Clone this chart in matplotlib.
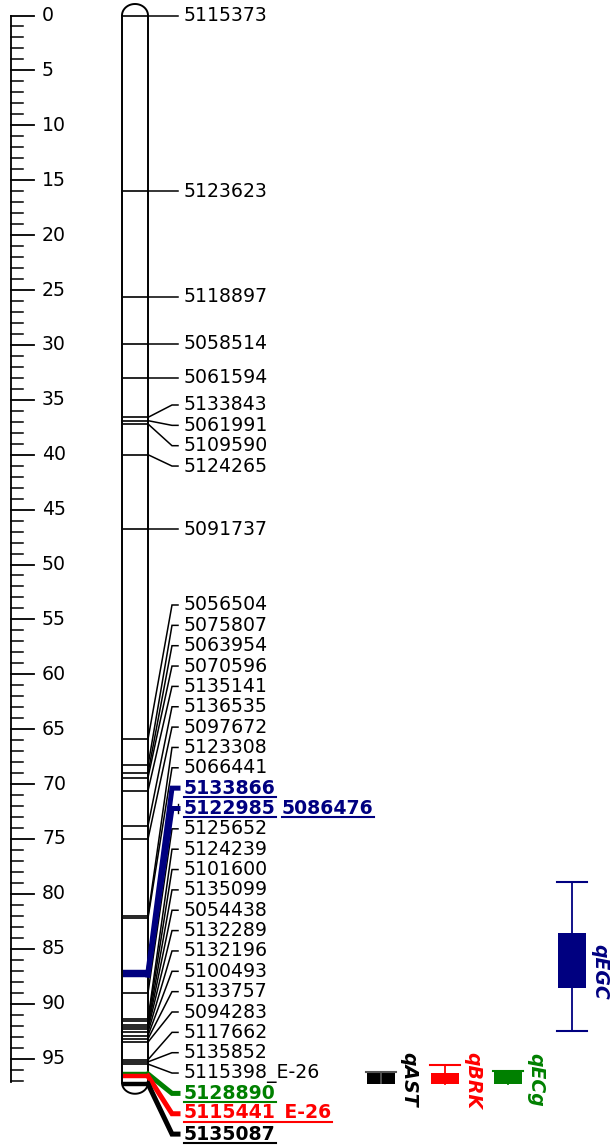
import numpy as np
import matplotlib
matplotlib.use("Agg")
import matplotlib.pyplot as plt

# linkage group: marker names and positions (cM)
marker_names = ['5115373', '5123623', '5118897', '5058514', '5061594',
                '5133843', '5061991', '5109590', '5124265', '5091737',
                '5056504', '5075807', '5063954', '5070596', '5135141',
                '5136535', '5097672', '5123308', '5066441',
                '5133866', '5122985',
                '5125652', '5124239', '5101600', '5135099', '5054438',
                '5132289', '5132196', '5100493', '5133757', '5094283',
                '5117662', '5135852', '5115398_E-26',
                '5128890', '5115441_E-26', '5135087']
marker_pos = [0.0, 16.0, 25.6, 29.9, 33.0,
              36.6, 36.9, 37.2, 40.0, 46.8,
              65.9, 68.3, 69.0, 69.4, 70.6,
              73.8, 75.0, 82.0, 82.2,
              87.1, 87.4,
              89.0, 91.4, 91.6, 91.9, 92.1,
              92.3, 92.6, 92.9, 93.2, 93.5,
              95.1, 95.3, 95.5,
              96.4, 96.6, 97.3]
# markers sharing a row with another marker
shared_names = {'5122985': '5086476'}
# highlighted markers linked to QTL
highlight = {'5133866': '#000080', '5122985': '#000080',
             '5128890': '#008000', '5115441_E-26': '#ff0000',
             '5135087': '#000000'}

# QTL intervals
qtl_names = ['qAST', 'qBRK', 'qECg', 'qEGC']
qtl_colors = ['#000000', '#ff0000', '#008000', '#000080']
qtl_box_lo = [96.1, 96.3, 96.1, 83.6]
qtl_box_hi = [97.3, 97.3, 97.3, 88.6]
qtl_ci_lo = [96.25, 95.6, 96.1, 78.9]
qtl_ci_hi = [97.2, 97.3, 97.3, 92.5]
qtl_x = [381, 445, 508, 572]

chrom_len = 97.2
ruler_max = 97

PX = 10.98           # pixels per cM
Y0 = 15.5            # pixel row of 0 cM
W, H = 611, 1146

fig = plt.figure(figsize=(W / 100, H / 100), dpi=100)
ax = fig.add_axes([0, 0, 1, 1])
ax.set_xlim(0, W)
ax.set_ylim((H - Y0) / PX, -Y0 / PX)
ax.axis('off')

FS = 13.6
plt.rcParams['font.family'] = ['DejaVu Sans']

# ruler
ax.plot([11, 11], [0, ruler_max + 0.1], color='black', lw=1.3)
for t in range(ruler_max + 1):
    if t % 5 == 0:
        ax.plot([11, 34], [t, t], color='black', lw=1.3)
        ax.text(42, t, str(t), fontsize=FS, va='center', ha='left')
    else:
        ax.plot([11, 23], [t, t], color='black', lw=1.1)

# chromosome outline
cx, hw = 135, 13
ry_top, ry_bot = 11.5 / PX, 11.0 / PX
th = np.linspace(np.pi, 0, 60)
top_x = cx + hw * np.cos(th)
top_y = 0 - ry_top * np.sin(th)
bx = cx + hw * np.cos(np.linspace(0, np.pi, 60))
ax.plot(np.concatenate([top_x, [cx + hw]]), np.concatenate([top_y, [chrom_len]]),
        color='black', lw=1.4)
ax.plot(bx, chrom_len + ry_bot * np.sin(np.linspace(0, np.pi, 60)), color='black', lw=1.4)
ax.plot([cx - hw, cx - hw], [0, chrom_len], color='black', lw=1.4)

# label rows: spread crowded markers into evenly spaced rows
label_y = list(marker_pos)
step = 20.35 / PX
groups = [(5, 4, (405 - Y0) / PX), (10, 27, (605 - Y0) / PX)]
for start, n, first in groups:
    for k in range(n):
        label_y[start + k] = first + k * step

fig.canvas.draw()
renderer = fig.canvas.get_renderer()
inv = ax.transData.inverted()

for name, pos, ly in zip(marker_names, marker_pos, label_y):
    col = highlight.get(name, 'black')
    hl = name in highlight
    lw_in = 3.2 if hl else 1.2
    lw_out = 3.6 if hl else 1.1
    ax.plot([cx - hw + 1, cx + hw], [pos, pos], color=col, lw=lw_in,
            solid_capstyle='butt', zorder=3 if hl else 2)
    ax.plot([cx + hw, 172, 178], [pos, ly, ly], color=col, lw=lw_out,
            solid_joinstyle='miter', zorder=3 if hl else 2)
    names = [name] + ([shared_names[name]] if name in shared_names else [])
    x = 184
    for nm in names:
        t = ax.text(x, ly, nm, fontsize=FS, va='center', ha='left', color=col,
                    fontweight='bold' if hl else 'normal')
        if hl:
            bb = t.get_window_extent(renderer)
            (x0, _), (x1, _) = inv.transform([(bb.x0, 0), (bb.x1, 0)])
            ax.plot([x0, x1], [ly + 8.5 / PX, ly + 8.5 / PX], color=col, lw=1.5)
            x = x1 + 6
    if name in shared_names:
        ax.plot([178, 178], [ly - 0.4, ly + 0.4], color='black', lw=1.0)

# QTL boxes with confidence whiskers
for nm, c, blo, bhi, clo, chi, x in zip(qtl_names, qtl_colors, qtl_box_lo, qtl_box_hi,
                                        qtl_ci_lo, qtl_ci_hi, qtl_x):
    ax.fill_between([x - 14, x + 14], blo, bhi, color=c, lw=0, zorder=3)
    wc = '#555555' if c == '#000000' else c
    ax.plot([x, x], [clo, chi], color=wc, lw=1.3, zorder=4 if c == '#000000' else 2)
    ax.plot([x - 15, x + 15], [clo, clo], color=wc, lw=1.5, zorder=4 if c == '#000000' else 2)
    if chi > bhi:
        ax.plot([x - 15, x + 15], [chi, chi], color=c, lw=1.5)
    ax.text(x + 18, (blo + bhi) / 2 + (1.0 if nm == 'qEGC' else 0.2), nm, color=c,
            fontsize=FS, fontweight='bold', fontstyle='italic',
            rotation=270, ha='left', va='center')

fig.savefig('out.png', dpi=100)
